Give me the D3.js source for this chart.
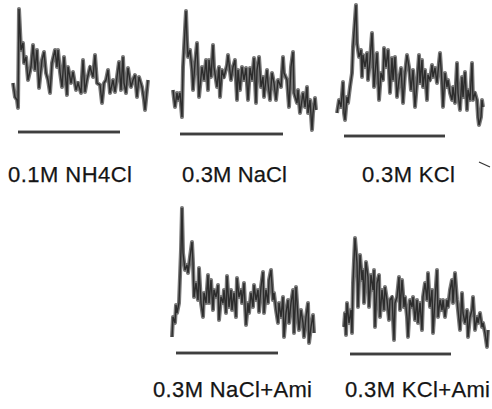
<!DOCTYPE html>
<html>
<head>
<meta charset="utf-8">
<script src="https://cdn.jsdelivr.net/npm/d3@7/dist/d3.min.js"></script>
<style>
  html, body { margin: 0; padding: 0; background: #fff; }
  svg { display: block; }
</style>
</head>
<body>
<svg id="chart" width="492" height="409"></svg>
<script>
// ---------- DATA (time in samples, response amplitude in arbitrary units) ----------
const labels = ["0.1M NH4Cl", "0.3M NaCl", "0.3M KCl", "0.3M NaCl+Ami", "0.3M KCl+Ami"];

const traceNH4Cl = [[0,27],[2,13],[4,10],[5,2],[6,101],[8,60],[10,67],[11,47],[13,53],[15,30],[18,43],[20,65],[22,40],[24,60],[26,22],[29,50],[31,58],[33,37],[35,30],[37,17],[39,47],[42,60],[44,43],[45,60],[47,38],[49,23],[51,53],[54,15],[55,43],[58,27],[60,38],[63,20],[65,27],[68,17],[70,50],[72,18],[74,30],[77,43],[80,33],[82,55],[84,27],[87,25],[89,7],[91,27],[93,30],[95,40],[97,17],[100,30],[102,18],[104,33],[106,48],[108,20],[110,53],[111,27],[113,17],[115,42],[118,23],[120,30],[122,35],[124,13],[126,33],[129,23],[131,10],[132,0],[134,20],[135,30]];

const traceNaCl = [[0,40],[2,23],[4,37],[5,30],[7,37],[9,13],[10,63],[13,119],[14,90],[15,73],[17,80],[19,60],[20,40],[22,67],[24,87],[26,33],[29,63],[31,50],[33,70],[35,40],[36,70],[38,53],[40,85],[41,63],[44,43],[46,63],[47,33],[49,60],[51,53],[54,65],[55,75],[58,50],[60,63],[62,70],[64,30],[65,60],[67,40],[69,63],[71,50],[73,62],[75,30],[77,62],[79,50],[81,72],[83,27],[84,60],[86,73],[88,43],[90,53],[91,33],[94,60],[95,47],[97,30],[99,57],[101,47],[103,30],[105,50],[108,43],[110,73],[111,57],[114,50],[116,23],[118,63],[120,78],[121,37],[124,27],[125,40],[127,17],[129,30],[130,37],[132,23],[134,43],[135,17],[137,30],[139,0],[140,17],[142,32],[143,20]];

const traceKCl = [[0,12],[2,25],[4,18],[6,43],[7,12],[8,5],[10,28],[11,22],[13,38],[15,52],[16,78],[19,120],[20,82],[22,68],[24,75],[25,48],[26,70],[28,58],[30,72],[31,45],[33,65],[35,92],[37,38],[39,62],[40,72],[42,25],[44,52],[46,45],[47,77],[49,58],[51,75],[53,32],[55,67],[56,45],[58,68],[60,28],[62,45],[64,57],[66,22],[68,52],[70,70],[72,58],[74,35],[76,55],[78,18],[80,42],[82,70],[83,42],[85,65],[86,38],[88,55],[90,25],[91,50],[93,45],[95,60],[96,48],[98,57],[100,42],[101,53],[103,72],[105,42],[106,18],[108,52],[110,38],[111,45],[113,32],[115,25],[116,38],[118,22],[120,62],[121,32],[123,15],[125,48],[126,28],[128,53],[130,15],[131,35],[133,25],[135,62],[136,25],[138,32],[140,25],[141,8],[142,0],[144,8],[145,25],[146,18]];

const traceNaClAmi = [[0,8],[1,28],[3,22],[4,40],[5,32],[7,42],[9,95],[10,137],[11,92],[13,75],[15,80],[16,72],[18,88],[20,103],[21,82],[22,48],[24,62],[26,45],[27,77],[29,42],[31,28],[32,52],[34,42],[36,70],[37,42],[39,65],[41,35],[42,55],[44,48],[46,60],[47,25],[49,48],[51,42],[52,55],[54,32],[55,69],[57,38],[59,55],[60,35],[62,52],[64,28],[65,67],[67,48],[69,55],[70,42],[72,62],[74,20],[76,42],[77,32],[79,52],[81,38],[82,60],[84,45],[86,55],[87,33],[89,58],[91,73],[92,32],[94,55],[96,42],[97,65],[99,75],[101,45],[102,52],[104,35],[106,22],[107,42],[109,28],[111,48],[112,8],[114,32],[116,45],[117,22],[119,42],[121,55],[122,12],[124,58],[126,28],[127,15],[129,35],[131,22],[132,8],[134,28],[136,42],[137,2],[139,18],[141,30],[142,12]];

const traceKClAmi = [[0,21],[1,35],[2,13],[3,45],[5,25],[7,38],[8,15],[9,65],[11,110],[13,85],[14,41],[16,93],[18,68],[19,78],[20,45],[22,86],[24,71],[25,41],[27,73],[29,58],[30,78],[31,21],[33,65],[35,73],[36,31],[38,58],[40,38],[41,61],[43,48],[45,28],[46,48],[48,51],[50,8],[51,45],[53,51],[55,71],[56,38],[58,68],[60,41],[61,51],[63,31],[64,11],[66,48],[68,41],[69,51],[71,28],[73,48],[74,25],[76,45],[78,18],[79,51],[81,65],[83,48],[84,75],[86,41],[88,58],[89,15],[91,48],[93,78],[94,31],[96,48],[98,38],[99,48],[101,31],[103,48],[104,41],[106,58],[108,68],[109,45],[111,75],[113,48],[114,38],[116,18],[118,55],[119,35],[121,25],[123,38],[124,11],[126,31],[128,38],[129,51],[131,18],[133,31],[134,25],[136,35],[138,21],[139,25],[141,15],[143,1],[144,18]];

// stimulus periods [onset, offset] in samples
const stimNH4Cl = [5, 107];
const stimNaCl = [7, 110];
const stimKCl = [7, 108];
const stimNaClAmi = [4, 106];
const stimKClAmi = [6, 107];

// ---------- LAYOUT ----------
const panels = [
  { label: labels[0], data: traceNH4Cl,   stim: stimNH4Cl,   x0: 13,  yBase: 110, barY: 132, lx: 8,   ly: 182, lw: 124 },
  { label: labels[1], data: traceNaCl,    stim: stimNaCl,    x0: 173, yBase: 130, barY: 134, lx: 182, ly: 182, lw: 105 },
  { label: labels[2], data: traceKCl,     stim: stimKCl,     x0: 337, yBase: 125, barY: 136, lx: 362, ly: 182, lw: 93 },
  { label: labels[3], data: traceNaClAmi, stim: stimNaClAmi, x0: 172, yBase: 345, barY: 353, lx: 153, ly: 397, lw: 159 },
  { label: labels[4], data: traceKClAmi,  stim: stimKClAmi,  x0: 344, yBase: 348, barY: 354, lx: 345, ly: 397, lw: 145 }
];

const svg = d3.select("#chart");

panels.forEach(p => {
  const x = d3.scaleLinear().domain([0, 150]).range([p.x0, p.x0 + 150]);
  const y = d3.scaleLinear().domain([0, 140]).range([p.yBase, p.yBase - 140]);
  const line = d3.line().x(d => x(d[0])).y(d => y(d[1]));
  const g = svg.append("g");

  g.append("path").attr("d", line(p.data))
    .attr("fill", "none").attr("stroke", "#777")
    .attr("stroke-width", 4).attr("stroke-linejoin", "round");
  g.append("path").attr("d", line(p.data))
    .attr("fill", "none").attr("stroke", "#2c2c2c")
    .attr("stroke-width", 1.4).attr("stroke-linejoin", "miter");

  g.append("line")
    .attr("x1", x(p.stim[0])).attr("x2", x(p.stim[1]))
    .attr("y1", p.barY).attr("y2", p.barY)
    .attr("stroke", "#555").attr("stroke-width", 3.2);
  g.append("line")
    .attr("x1", x(p.stim[0])).attr("x2", x(p.stim[1]))
    .attr("y1", p.barY).attr("y2", p.barY)
    .attr("stroke", "#2a2a2a").attr("stroke-width", 1.2);

  svg.append("text")
    .attr("x", p.lx).attr("y", p.ly)
    .attr("font-family", "'Liberation Sans', Arial, sans-serif")
    .attr("font-size", 22)
    .attr("fill", "#151515")
    .attr("stroke", "#151515").attr("stroke-width", 0.25)
    .attr("textLength", p.lw).attr("lengthAdjust", "spacing")
    .text(p.label);
});

// small scan mark near the KCl label
svg.append("line").attr("x1", 479).attr("y1", 162).attr("x2", 490).attr("y2", 167)
  .attr("stroke", "#333").attr("stroke-width", 1.3);
</script>
</body>
</html>
